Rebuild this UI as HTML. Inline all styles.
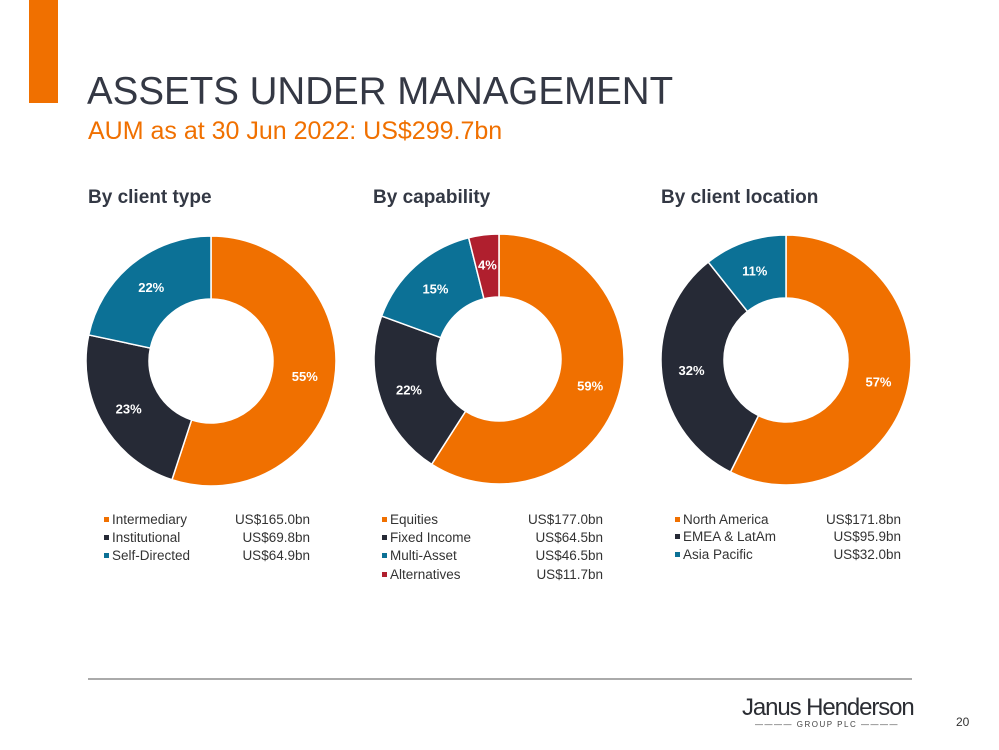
<!DOCTYPE html>
<html><head><meta charset="utf-8"><style>
body{margin:0;width:999px;height:750px;background:#fff;font-family:"Liberation Sans",Arial,sans-serif;overflow:hidden;position:relative}
.abs{position:absolute}
</style></head><body>
<div class="abs" style="left:29px;top:0;width:29px;height:103px;background:#F07000"></div>
<div class="abs" style="left:87px;top:70px;font-size:38.5px;color:#343844;white-space:nowrap">ASSETS UNDER MANAGEMENT</div>
<div class="abs" style="left:88px;top:117px;font-size:25px;color:#F07000;white-space:nowrap">AUM as at 30 Jun 2022: US$299.7bn</div>
<svg class="abs" style="left:0;top:0" width="999" height="750" id="chart">
<line x1="88" y1="679" x2="912" y2="679" stroke="#555" stroke-width="1"/>
</svg>
<div class="abs" style="left:742px;top:694px;font-size:24px;color:#2b2d33;letter-spacing:-1.1px;white-space:nowrap">Janus Henderson</div>
<div class="abs" style="left:742px;top:720px;width:170px;font-size:8px;color:#444;letter-spacing:1.5px;text-align:center;white-space:nowrap">———— GROUP PLC ————</div>
<div class="abs" style="left:956px;top:715px;font-size:12px;color:#333">20</div>
<script>
const titles=["By client type","By capability","By client location"];
const cat1=["Intermediary","Institutional","Self-Directed"];
const val1=[165.0,69.8,64.9];
const pct1=["55%","23%","22%"];
const cat2=["Equities","Fixed Income","Multi-Asset","Alternatives"];
const val2=[177.0,64.5,46.5,11.7];
const pct2=["59%","22%","15%","4%"];
const cat3=["North America","EMEA & LatAm","Asia Pacific"];
const val3=[171.8,95.9,32.0];
const pct3=["57%","32%","11%"];
const vlab1=["US$165.0bn","US$69.8bn","US$64.9bn"];
const vlab2=["US$177.0bn","US$64.5bn","US$46.5bn","US$11.7bn"];
const vlab3=["US$171.8bn","US$95.9bn","US$32.0bn"];
const colors=["#F07000","#262A36","#0C7196","#B01F2E"];
const svg=document.getElementById('chart');
const NS="http://www.w3.org/2000/svg";
function mk(t,a){const e=document.createElementNS(NS,t);for(const k in a)e.setAttribute(k,a[k]);svg.appendChild(e);return e;}
const charts=[
 {cx:211,cy:361,tx:88,cats:cat1,vals:val1,pcts:pct1,vl:vlab1,lx:107,vr:310,ly:[520,538,556]},
 {cx:499,cy:359,tx:373,cats:cat2,vals:val2,pcts:pct2,vl:vlab2,lx:385,vr:603,ly:[520,538,556,575]},
 {cx:786,cy:360,tx:661,cats:cat3,vals:val3,pcts:pct3,vl:vlab3,lx:678,vr:901,ly:[520,537,555]}
];
const R=125,r=62;
function pt(cx,cy,rad,a){return [cx+rad*Math.sin(a),cy-rad*Math.cos(a)];}
charts.forEach((c,ci)=>{
 const t=mk('text',{x:c.tx,y:203,'font-size':19,'font-weight':'bold',fill:'#333844'});
 
 
 t.textContent=titles[ci];
 const tot=c.vals.reduce((a,b)=>a+b,0);let a0=0;
 c.vals.forEach((v,i)=>{
  const a1=a0+v/tot*2*Math.PI;const lg=(a1-a0)>Math.PI?1:0;
  const [x0,y0]=pt(c.cx,c.cy,R,a0),[x1,y1]=pt(c.cx,c.cy,R,a1),[x2,y2]=pt(c.cx,c.cy,r,a1),[x3,y3]=pt(c.cx,c.cy,r,a0);
  const p=mk('path',{d:`M${x0},${y0}A${R},${R} 0 ${lg} 1 ${x1},${y1}L${x2},${y2}A${r},${r} 0 ${lg} 0 ${x3},${y3}Z`,fill:colors[i],stroke:'#fff','stroke-width':1.5});
  
  
  const m=(a0+a1)/2;const [lx,ly]=pt(c.cx,c.cy,95,m);
  const l=mk('text',{x:lx,y:ly+5,'font-size':13,'font-weight':'bold',fill:'#fff','text-anchor':'middle'});
  
  
  l.textContent=c.pcts[i];
  const y=c.ly[i];
  const sq=mk('rect',{x:c.lx-3,y:y-3,width:5,height:5,fill:colors[i]});
  
  
  const lt=mk('text',{x:c.lx+5,y:y+4,'font-size':13.5,fill:'#333'});
  
  
  lt.textContent=c.cats[i];
  const vt=mk('text',{x:c.vr,y:y+4,'font-size':13.5,fill:'#333','text-anchor':'end'});
  
  
  vt.textContent=c.vl[i];
  a0=a1;
 });
});
</script>
</body></html>
